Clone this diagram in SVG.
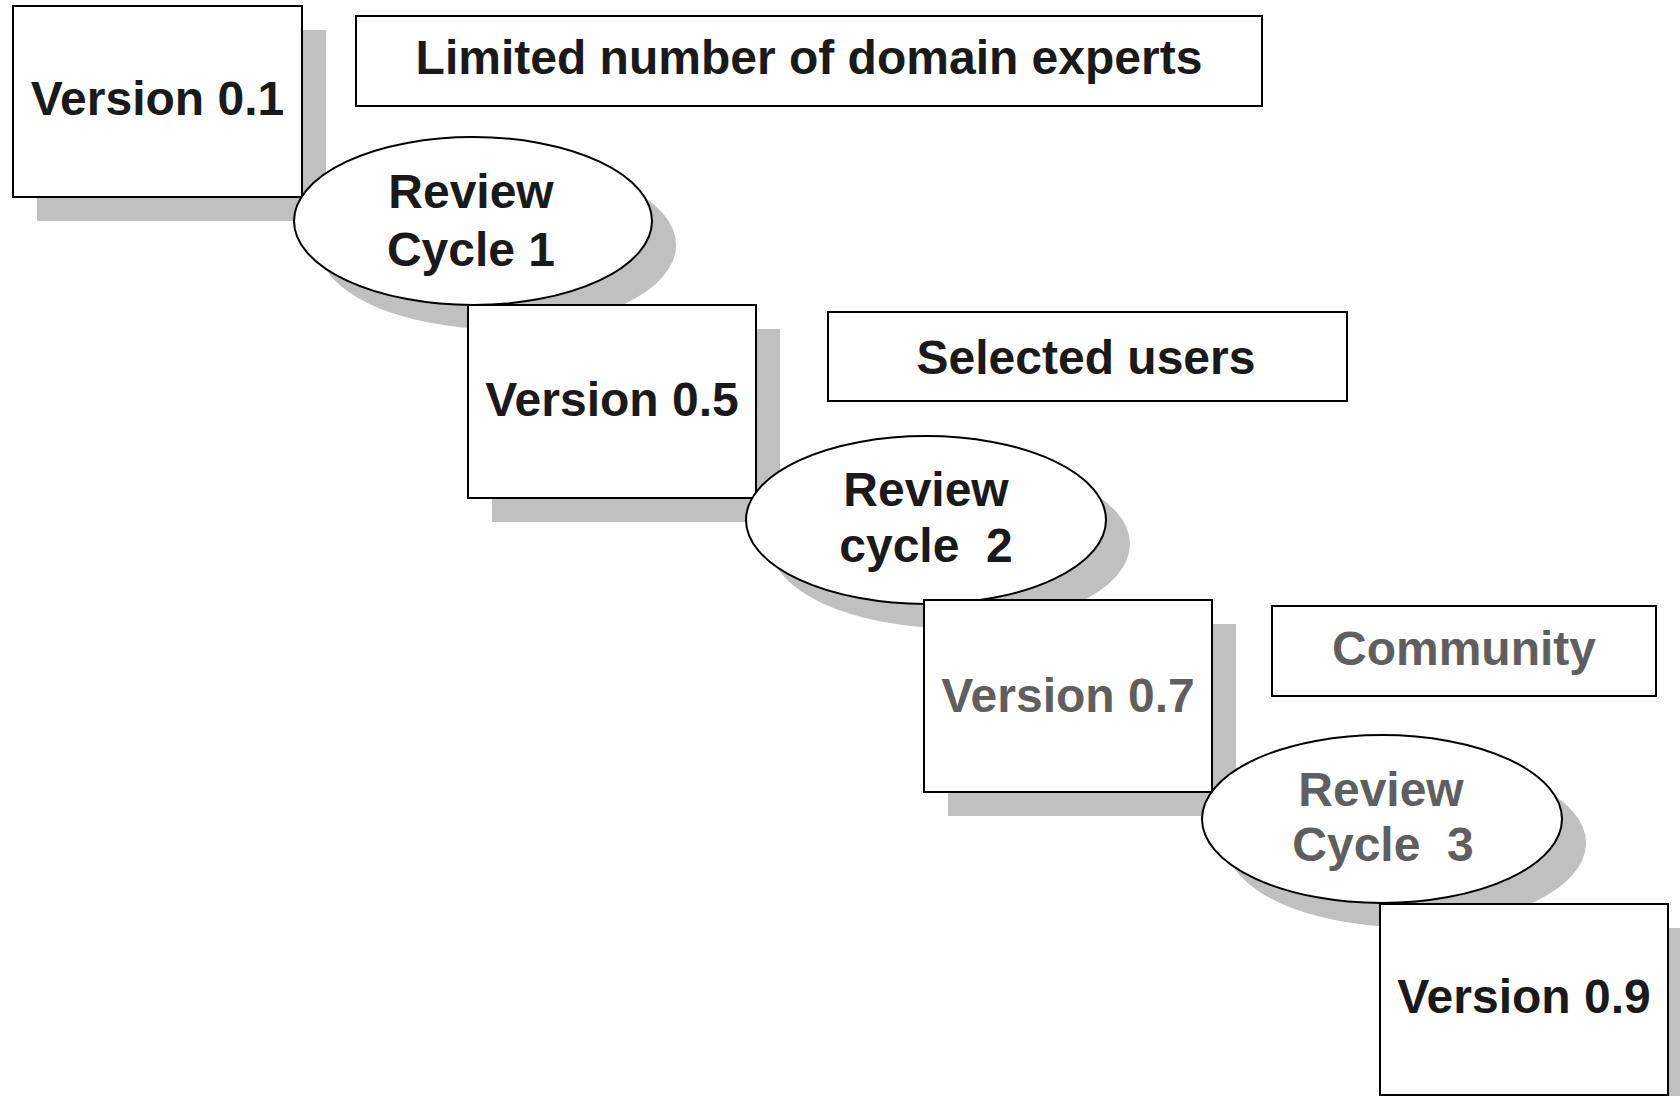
<svg xmlns="http://www.w3.org/2000/svg" width="1680" height="1096" viewBox="0 0 1680 1096">
<style>
.sh{fill:#c0c0c0;stroke:none}
.bx{fill:#fff;stroke:#000;stroke-width:2}
.t{font-family:"Liberation Sans",Arial,Helvetica,sans-serif;font-weight:bold;font-size:48px;text-anchor:middle;fill:#1a1a1a}
.g{fill:#5f5f5f}
</style>
<rect width="1680" height="1096" fill="#fff"/>
<g id="connectors"></g>
<g id="label-limited">
<rect class="bx" x="356" y="16" width="906" height="90"/>
<text class="t" x="809" y="74">Limited number of domain experts</text>
</g>
<g id="label-selected">
<rect class="bx" x="828" y="312" width="519" height="89"/>
<text class="t" x="1086" y="374">Selected users</text>
</g>
<g id="label-community">
<rect class="bx" x="1272" y="606" width="384" height="90"/>
<text class="t g" x="1464" y="665">Community</text>
</g>
<g id="v01">
<rect class="sh" x="37" y="30" width="289" height="191"/>
<rect class="bx" x="13" y="6" width="289" height="191"/>
<text class="t" x="157.5" y="115">Version 0.1</text>
</g>
<g id="rc1">
<ellipse class="sh" cx="497" cy="245" rx="179" ry="84"/>
<ellipse class="bx" cx="473" cy="221" rx="179" ry="84"/>
<text class="t" x="471" y="208">Review</text>
<text class="t" x="471" y="266">Cycle 1</text>
</g>
<g id="v05">
<rect class="sh" x="492" y="329" width="288" height="193"/>
<rect class="bx" x="468" y="305" width="288" height="193"/>
<text class="t" x="612" y="416">Version 0.5</text>
</g>
<g id="rc2">
<ellipse class="sh" cx="950" cy="544" rx="180" ry="84"/>
<ellipse class="bx" cx="926" cy="520" rx="180" ry="84"/>
<text class="t" x="926" y="506">Review</text>
<text class="t" x="926" y="562" xml:space="preserve">cycle  2</text>
</g>
<g id="v07">
<rect class="sh" x="948" y="624" width="288" height="192"/>
<rect class="bx" x="924" y="600" width="288" height="192"/>
<text class="t g" x="1068" y="712">Version 0.7</text>
</g>
<g id="rc3">
<ellipse class="sh" cx="1406" cy="843" rx="180" ry="84"/>
<ellipse class="bx" cx="1382" cy="819" rx="180" ry="84"/>
<text class="t g" x="1381" y="806">Review</text>
<text class="t g" x="1383" y="861" xml:space="preserve">Cycle  3</text>
</g>
<g id="v09">
<rect class="sh" x="1404" y="928" width="288" height="192"/>
<rect class="bx" x="1380" y="904" width="288" height="191"/>
<text class="t" x="1524" y="1013" fill="#262626">Version 0.9</text>
</g>
</svg>
